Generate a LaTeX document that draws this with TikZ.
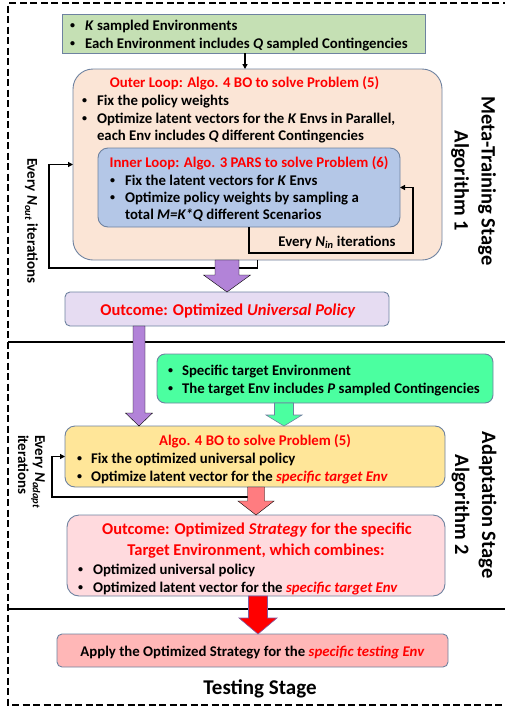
\documentclass[tikz,border=0pt]{standalone}
\usepackage{fontspec}
\setmainfont{Carlito}
\usetikzlibrary{calc,arrows.meta}
\definecolor{bordc}{RGB}{110,130,160}
\definecolor{envg}{RGB}{197,224,180}
\definecolor{peach}{RGB}{251,229,214}
\definecolor{innb}{RGB}{180,199,231}
\definecolor{lav}{RGB}{230,220,242}
\definecolor{purp}{RGB}{178,131,216}
\definecolor{mint}{RGB}{75,255,160}
\definecolor{yel}{RGB}{255,230,153}
\definecolor{salm}{RGB}{255,124,128}
\definecolor{lpink}{RGB}{255,218,222}
\definecolor{apk}{RGB}{255,183,183}
\definecolor{redb}{RGB}{130,90,160}
\newcommand\bitem[5]{\node[txt] (#1b) at (#2,#4) {\raisebox{1.3pt}{\fontsize{10}{10}\selectfont\textbullet}}; \node[txt] (#1) at (#3,#4) {#5};}
\newcommand\blockarr[7]{%
 \draw[#1] ($(#2 |- #3)+(-#5,0)$) -- ($(#2 |- #4)+(-#5,-#7)$) -- ($(#2 |- #4)+(-#6,-#7)$) -- (#2 |- #4) -- ($(#2 |- #4)+(#6,-#7)$) -- ($(#2 |- #4)+(#5,-#7)$) -- ($(#2 |- #3)+(#5,0)$) -- cycle;}
\begin{document}
\begin{tikzpicture}[x=1pt,y=-1pt,
  every node/.style={font=\bfseries\fontsize{14.8}{17}\selectfont, inner sep=0pt, outer sep=0pt},
  box/.style={draw=bordc, line width=0.9pt, inner sep=0pt, outer sep=0pt},
  txt/.style={anchor=base west},
  ttl/.style={anchor=base, text=red},
  loopln/.style={line width=1.5pt, -{Triangle[length=5pt,width=5pt]}},
  big/.style={font=\bfseries\fontsize{20.5}{27}\selectfont, align=center},
  small/.style={font=\bfseries\fontsize{15}{17}\selectfont, align=left},
  otl/.style={anchor=base, text=red, font=\bfseries\fontsize{16.5}{20}\selectfont}
]
\useasboundingbox (0,0) rectangle (505,710);
% frame and separators
\draw[line width=2.2pt, dash pattern=on 7pt off 3.5pt] (520,3) -- (8,3) -- (8,705) -- (520,705);
\draw[line width=2pt] (8,342) -- (505,342);
\draw[line width=2pt] (8,609) -- (505,609);

% boxes
\node[box, fill=envg, minimum width=363pt, minimum height=39pt] (env) at (243.5,33.5) {};
\node[box, fill=peach, minimum width=369pt, minimum height=191pt, rounded corners=20pt] (outer) at (257.5,164.5) {};
\node[box, fill=innb, minimum width=302pt, minimum height=79pt, rounded corners=10pt] (inner) at (249,187.5) {};
\node[box, fill=lav, minimum width=324pt, minimum height=34pt, rounded corners=5pt] (out1) at (227,309) {};
\node[box, fill=mint, minimum width=336pt, minimum height=49pt, rounded corners=8pt] (tgt) at (325,378.5) {};
\node[box, fill=yel, minimum width=380pt, minimum height=61pt, rounded corners=10pt] (adapt) at (255,456.5) {};
\node[box, fill=lpink, minimum width=378pt, minimum height=81pt, rounded corners=12pt] (out2) at (256,555.5) {};
\node[box, fill=apk, minimum width=391pt, minimum height=33pt, rounded corners=5pt] (apply) at (252.5,650.5) {};

% env text
\bitem{e1}{70}{85}{30}{\textit{K} sampled Environments}
\bitem{e2}{70}{85}{48}{Each Environment includes \textit{Q} sampled Contingencies}
% outer text
\node[ttl] (ot) at (244.5,87) {Outer Loop: Algo. 4 BO to solve Problem (5)};
\bitem{o1}{82}{97}{105}{Fix the policy weights}
\bitem{o2}{82}{97}{123}{Optimize latent vectors for the \textit{K} Envs in Parallel,}
\node[txt] (o3) at (97,140) {each Env includes \textit{Q} different Contingencies};
% inner text
\node[ttl] (it) at (249,167) {Inner Loop: Algo. 3 PARS to solve Problem (6)};
\bitem{i1}{110}{125}{185}{Fix the latent vectors for \textit{K} Envs}
\bitem{i2}{110}{125}{202}{Optimize policy weights by sampling a}
\node[txt] (i3) at (125,219) {total \textit{M=K*Q} different Scenarios};
\node[anchor=base] (nin) at (337,246) {Every \textit{N}\textsubscript{\textit{in}} iterations};
% outcome 1
\node[otl] (o1t) at (228,315.5) {Outcome: Optimized \textit{Universal Policy}};
% target env
\bitem{t1}{168}{182}{375}{Specific target Environment}
\bitem{t2}{168}{182}{393}{The target Env includes \textit{P} sampled Contingencies}
% adapt
\node[ttl] (at) at (255,445) {Algo. 4 BO to solve Problem (5)};
\bitem{a1}{77}{91}{463}{Fix the optimized universal policy}
\bitem{a2}{77}{91}{481}{Optimize latent vector for the \textcolor{red}{\textit{specific target Env}}}
% outcome 2
\node[otl] (s1) at (257,534.5) {Outcome: Optimized \textit{Strategy} for the specific};
\node[otl] (s2) at (256,555.5) {Target Environment, which combines:};
\bitem{s3}{78}{93}{574}{Optimized universal policy}
\bitem{s4}{78}{93}{592}{Optimized latent vector for the \textcolor{red}{\textit{specific target Env}}}
% apply
\node[anchor=base] (ap) at (252.5,656) {Apply the Optimized Strategy for the \textcolor{red}{\textit{specific testing Env}}};
\node[anchor=base, font=\bfseries\fontsize{21}{24}\selectfont] (ts) at (260,694) {Testing Stage};

% side labels
\node[big, rotate=-90] (mts) at (473.5,181) {Meta-Training Stage\\Algorithm 1};
\node[big, rotate=-90] (ads) at (474,505) {Adaptation Stage\\Algorithm 2};
\node[small, rotate=-90, anchor=west] (nout) at (31.5,158) {Every \textit{N}\textsubscript{\textit{out}} iterations};
\node[small, rotate=-90, anchor=west] (nad) at (31.5,435) {Every \textit{N}\textsubscript{\textit{adapt}}\\iterations};

% loop connectors
\coordinate (ic) at (413,253);
\draw[loopln] (inner.south) |- (ic) |- (inner.east);
\coordinate (oc) at (49,268);
\draw[loopln] (outer.south) |- (oc) |- (outer.west);
\coordinate (ac) at (52,497);
\draw[loopln] (adapt.south) |- (ac) |- (adapt.west);
\draw[line width=1.2pt, -{Triangle[length=5pt,width=5pt]}] (env.south -| 245,0) -- (outer.north -| 245,0);

% block arrows
\coordinate (xa) at (227,0);
\coordinate (xb) at (139,0);
\coordinate (xc) at (284,0);
\coordinate (xd) at (256,0);
\coordinate (xe) at (258,0);
\blockarr{fill=purp}{xa}{outer.south}{out1.north}{12}{23.5}{17}
\blockarr{fill=purp}{xb}{out1.south}{adapt.north}{6}{13.5}{13}
\blockarr{fill=mint, draw=bordc, line width=0.6pt}{xc}{tgt.south}{adapt.north}{9.5}{18}{11}
\blockarr{fill=salm}{xd}{adapt.south}{out2.north}{8.5}{18}{14}
\blockarr{fill=red, draw=redb, line width=0.6pt}{xe}{out2.south}{apply.north}{9.5}{19}{16}
\end{tikzpicture}
\end{document}
